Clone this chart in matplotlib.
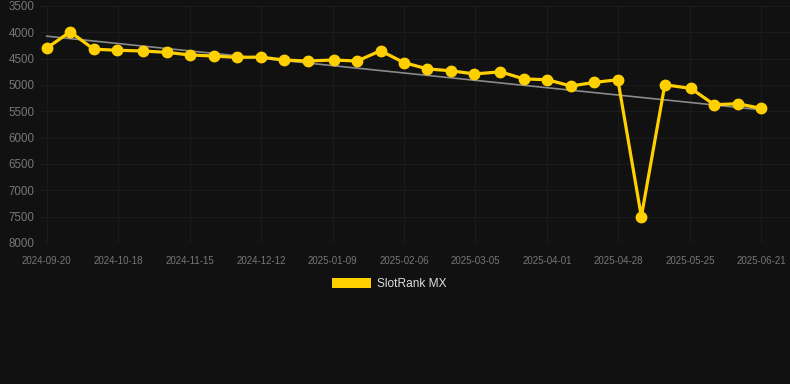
import numpy as np
import pandas as pd
import matplotlib
matplotlib.use('Agg')
import matplotlib.pyplot as plt
import matplotlib.dates as mdates
from matplotlib.patches import Patch

plt.rcParams['font.family'] = ['Liberation Sans', 'DejaVu Sans']

# data
dates = ['2024-09-20', '2024-09-29', '2024-10-08', '2024-10-17', '2024-10-27',
         '2024-11-05', '2024-11-14', '2024-11-23', '2024-12-02', '2024-12-11',
         '2024-12-20', '2024-12-29', '2025-01-08', '2025-01-17', '2025-01-26',
         '2025-02-04', '2025-02-13', '2025-02-22', '2025-03-03', '2025-03-13',
         '2025-03-22', '2025-03-31', '2025-04-09', '2025-04-18', '2025-04-27',
         '2025-05-06', '2025-05-15', '2025-05-25', '2025-06-03', '2025-06-12',
         '2025-06-21']
rank = [4300, 3990, 4320, 4340, 4355, 4380, 4430, 4450, 4475, 4470,
        4525, 4545, 4525, 4545, 4350, 4575, 4695, 4730, 4790, 4750,
        4885, 4900, 5020, 4950, 4900, 7500, 4995, 5065, 5375, 5355,
        5445]
tick_labels = ['2024-09-20', '2024-10-18', '2024-11-15', '2024-12-12', '2025-01-09',
               '2025-02-06', '2025-03-05', '2025-04-01', '2025-04-28', '2025-05-25',
               '2025-06-21']
y_ticks = [3500, 4000, 4500, 5000, 5500, 6000, 6500, 7000, 7500, 8000]
series_name = 'SlotRank MX'

BG = '#111111'
YELLOW = '#FFD000'
GRID = '#1b1b1b'
TXT = '#777777'

x = mdates.date2num(pd.to_datetime(dates))
y = np.array(rank, dtype=float)

W, H = 790, 384
fig = plt.figure(figsize=(W / 100, H / 100), dpi=100, facecolor=BG)
ax = fig.add_axes([40 / W, 1 - 243 / H, 750 / W, (243 - 6) / H], facecolor=BG)

# trend line (least squares)
k, b = np.polyfit(x - x[0], y, 1)
ax.plot([x[0], x[-1]], [b, b + k * (x[-1] - x[0])], color='#8a8a8a', lw=1.2, zorder=2)

ax.plot(x, y, color=YELLOW, lw=2.3, marker='o', ms=7.5, zorder=3, solid_joinstyle='round')

# x limits so that first/last points sit where the reference has them
px_per_day = (761.3 - 46.7) / (x[-1] - x[0])
ax.set_xlim(x[0] - (46.7 - 40) / px_per_day, x[-1] + (790 - 761.3) / px_per_day)
ax.set_ylim(8000, 3500)

ax.set_xticks(np.linspace(x[0], x[-1], len(tick_labels)))
ax.set_xticklabels(tick_labels)
ax.set_yticks(y_ticks)

ax.grid(True, color=GRID, lw=0.8)
ax.set_axisbelow(True)
for s in ax.spines.values():
    s.set_visible(False)
ax.tick_params(axis='both', length=0, colors=TXT)
ax.tick_params(axis='x', labelsize=7, pad=9)
ax.tick_params(axis='y', labelsize=8.3, pad=4)
ax.axhline(8000, color='#252525', lw=1, zorder=1)

leg = fig.legend(handles=[Patch(facecolor=YELLOW, edgecolor='none', label=series_name)],
                 loc='center', bbox_to_anchor=(389 / W, 1 - 284 / H),
                 frameon=False, fontsize=8.6, handlelength=3.3, handleheight=0.9,
                 handletextpad=0.5, labelcolor='#dddddd')

fig.savefig('out.png', dpi=100, facecolor=BG)
